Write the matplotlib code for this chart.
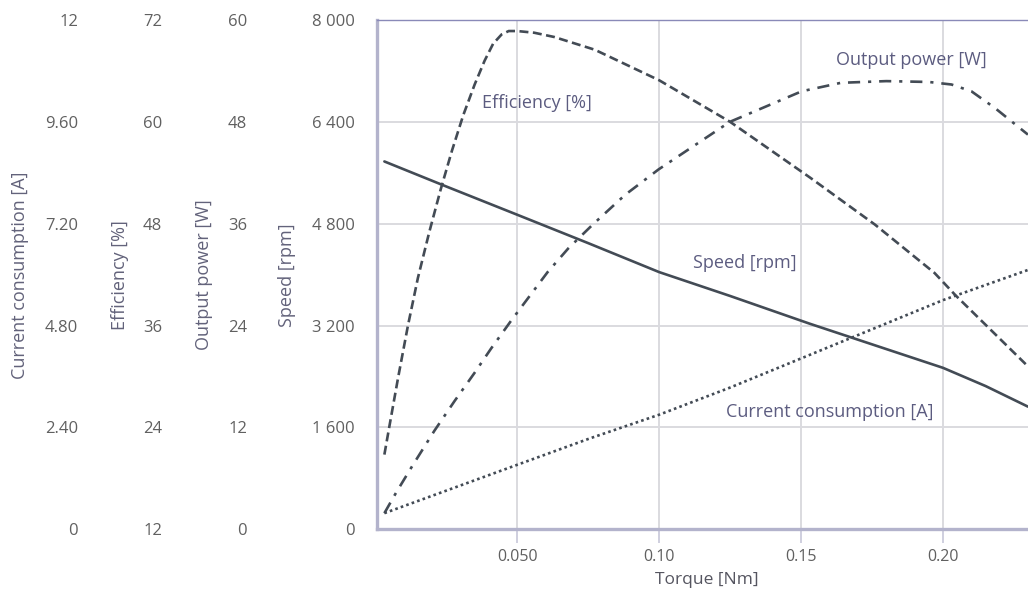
import matplotlib
matplotlib.use("Agg")
import matplotlib.pyplot as plt

plt.rcParams['font.family'] = ['Open Sans', 'DejaVu Sans']

# values
speed_torque = [0.0032, 0.0250, 0.0500, 0.0750, 0.1000, 0.1250, 0.1530, 0.1750, 0.2000,
                0.2150, 0.2299]
speed_rpm = [5778, 5385, 4941, 4495, 4040, 3665, 3230, 2905, 2536, 2250, 1927]

eff_torque = [0.0032, 0.0050, 0.0080, 0.0115, 0.0150, 0.0190, 0.0230, 0.0270, 0.0310,
              0.0350, 0.0385, 0.0415, 0.0445, 0.0470, 0.0500, 0.0560, 0.0630, 0.0773,
              0.1000, 0.1250, 0.1533, 0.1760, 0.1970, 0.2043, 0.2299]
eff_pct = [20.8, 24.2, 29.8, 36.0, 41.6, 47.0, 52.0, 56.6, 60.8,
           64.4, 67.2, 69.2, 70.3, 70.7, 70.7, 70.5, 70.0, 68.5,
           64.9, 60.0, 53.4, 47.9, 42.2, 39.6, 31.2]

power_torque = [0.0032, 0.0073, 0.0131, 0.0208, 0.0279, 0.0349, 0.0408, 0.0479, 0.0607,
                0.0680, 0.0766, 0.0880, 0.0998, 0.1249, 0.1502, 0.1640, 0.1800, 0.1950,
                0.2030, 0.2100, 0.2184, 0.2299]
power_w = [1.9, 4.3, 7.5, 11.6, 15.1, 18.4, 21.3, 24.6, 30.3,
           33.1, 35.9, 39.4, 42.4, 48.0, 51.6, 52.6, 52.8, 52.7,
           52.4, 51.6, 49.6, 46.5]

current_torque = [0.0032, 0.0500, 0.0755, 0.1000, 0.1250, 0.1505, 0.2000, 0.2299]
current_a = [0.38, 1.52, 2.14, 2.70, 3.34, 4.04, 5.40, 6.11]

x_ticks = [0.05, 0.10, 0.15, 0.20]
x_ticklabels = ["0.050", "0.10", "0.15", "0.20"]

speed_ticks = [0, 1600, 3200, 4800, 6400, 8000]
speed_ticklabels = ["0", "1 600", "3 200", "4 800", "6 400", "8 000"]
power_ticks = [0, 12, 24, 36, 48, 60]
power_ticklabels = ["0", "12", "24", "36", "48", "60"]
eff_ticks = [12, 24, 36, 48, 60, 72]
eff_ticklabels = ["12", "24", "36", "48", "60", "72"]
current_ticks = [0, 2.4, 4.8, 7.2, 9.6, 12]
current_ticklabels = ["0", "2.40", "4.80", "7.20", "9.60", "12"]

LINE = "#434b55"
TICK = "#606060"
TITLE = "#62627a"
LABEL = "#5c5c80"

W, H = 1028, 590
fig = plt.figure(figsize=(W / 100, H / 100), dpi=100)
left, right, top, bottom = 377, 1037, 20, 529.3
ax = fig.add_axes([left / W, 1 - bottom / H, (right - left) / W, (bottom - top) / H])

ax.set_xlim(0.0006, 0.2331)
ax.set_ylim(0, 8000)
ax.set_xticks(x_ticks)
ax.set_xticklabels(x_ticklabels)
ax.set_yticks(speed_ticks)
ax.set_yticklabels(speed_ticklabels)
ax.tick_params(axis='x', length=10, width=1.3, color="#ccccdc", pad=4,
               labelsize=11.5, labelcolor=TICK)
ax.tick_params(axis='y', length=0, pad=15.8, labelsize=12, labelcolor=TICK)
ax.grid(True, color="#dadadf", linewidth=1.4)
ax.set_axisbelow(True)

ax.spines['right'].set_visible(False)
ax.spines['top'].set_color("#8a8ab8")
ax.spines['top'].set_linewidth(1.0)
ax.spines['left'].set_color("#b3b3cc")
ax.spines['left'].set_linewidth(2.4)
ax.spines['bottom'].set_color("#b3b3cc")
ax.spines['bottom'].set_linewidth(2.4)

ax.plot(speed_torque, speed_rpm, color=LINE, lw=1.9, solid_capstyle='round')
ax.set_xlabel("Torque [Nm]", fontsize=12.5, color="#555560", labelpad=5)


def extra_axis(lim, ticks, labels, pad):
    tw = ax.twinx()
    tw.set_ylim(*lim)
    tw.yaxis.tick_left()
    tw.set_yticks(ticks)
    tw.set_yticklabels(labels)
    tw.tick_params(axis='y', length=0, pad=pad, labelsize=12, labelcolor=TICK)
    for s in tw.spines.values():
        s.set_visible(False)
    tw.patch.set_visible(False)
    return tw


ax_pow = extra_axis((0, 60), power_ticks, power_ticklabels, 93.6)
ax_eff = extra_axis((12, 72), eff_ticks, eff_ticklabels, 154.8)
ax_cur = extra_axis((0, 12), current_ticks, current_ticklabels, 215.3)

ax_eff.plot(eff_torque, eff_pct, color=LINE, lw=1.9, dashes=(3.4, 1.7))
ax_pow.plot(power_torque, power_w, color=LINE, lw=1.9, dashes=(4.6, 3.0, 1.2, 3.0))
ax_cur.plot(current_torque, current_a, color=LINE, lw=1.9, dashes=(1.0, 1.2))

# series labels inside the plot (speed-axis data coordinates)
for x, y, txt in [(0.0568, 6700, "Efficiency [%]"), (0.189, 7378, "Output power [W]"),
                  (0.130, 4186, "Speed [rpm]"), (0.160, 1844, "Current consumption [A]")]:
    ax.text(x, y, txt, color=LABEL, fontsize=13, ha='center', va='center')

# axis titles on the left
ymid = 1 - 275 / H
for xp, txt in [(20, "Current consumption [A]"), (120, "Efficiency [%]"),
                (204, "Output power [W]"), (287, "Speed [rpm]")]:
    fig.text(xp / W, ymid, txt, rotation=90, ha='center', va='center',
             fontsize=13, color=TITLE)

fig.savefig("out.png", dpi=100)
